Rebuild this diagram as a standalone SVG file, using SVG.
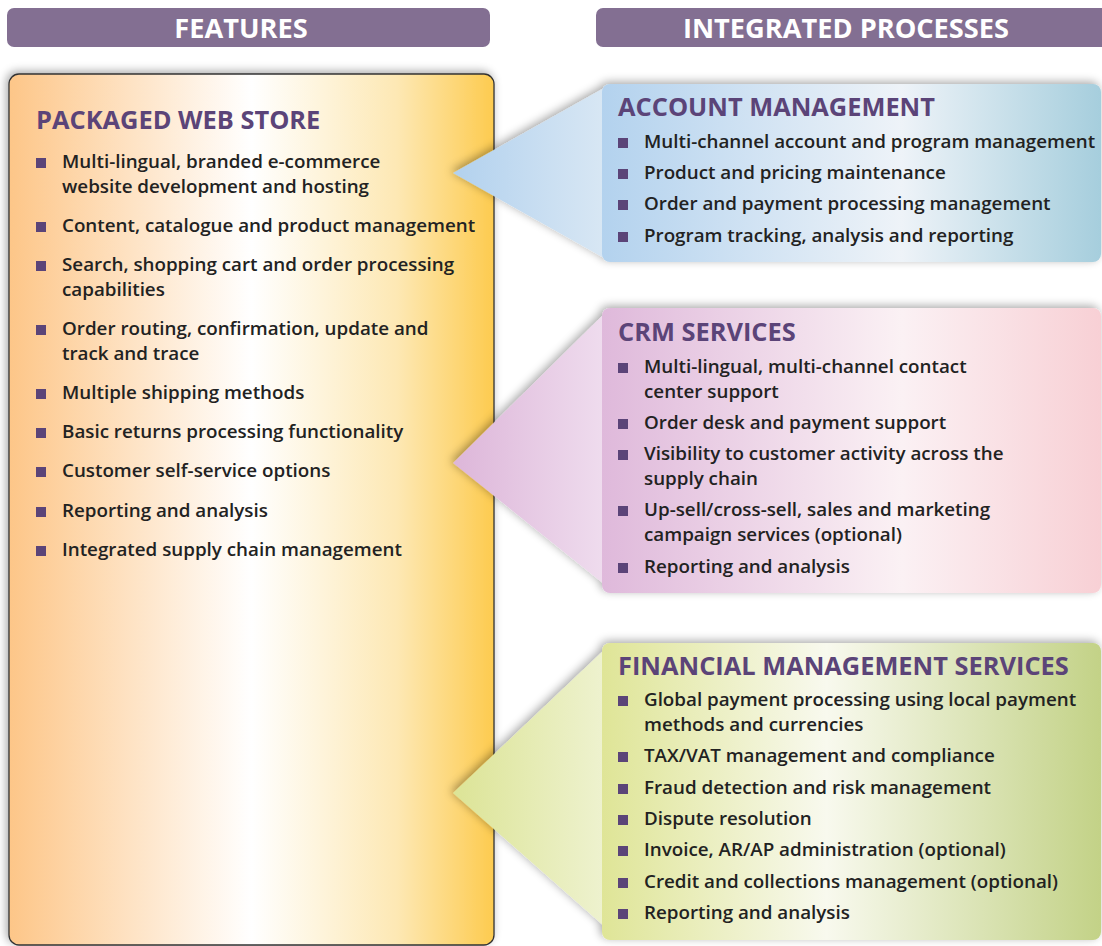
<svg xmlns="http://www.w3.org/2000/svg" width="1102" height="946" viewBox="0 0 1102 946">
<defs>
<linearGradient id="gLeft" x1="0" y1="0" x2="1" y2="0">
<stop offset="0" stop-color="#fdc688"/>
<stop offset="0.5" stop-color="#ffffff"/>
<stop offset="0.8" stop-color="#fde8b4"/>
<stop offset="1" stop-color="#fdcb4f"/>
</linearGradient>
<linearGradient id="gAcc" x1="0" y1="0" x2="1" y2="0">
<stop offset="0" stop-color="#b3d2ee"/>
<stop offset="0.6" stop-color="#eef3f8"/>
<stop offset="1" stop-color="#a6cedd"/>
</linearGradient>
<linearGradient id="gAccT" x1="0" y1="0" x2="1" y2="0">
<stop offset="0" stop-color="#b2d1ee"/>
<stop offset="1" stop-color="#d8e7f4"/>
</linearGradient>
<linearGradient id="gCrm" x1="0" y1="0" x2="1" y2="0">
<stop offset="0" stop-color="#dfb9db"/>
<stop offset="0.6" stop-color="#fbf1f4"/>
<stop offset="1" stop-color="#f8d0d5"/>
</linearGradient>
<linearGradient id="gCrmT" x1="0" y1="0" x2="1" y2="0">
<stop offset="0" stop-color="#ddb6d9"/>
<stop offset="1" stop-color="#efdcee"/>
</linearGradient>
<linearGradient id="gFin" x1="0" y1="0" x2="1" y2="0">
<stop offset="0" stop-color="#dfe597"/>
<stop offset="0.45" stop-color="#f8f9ee"/>
<stop offset="1" stop-color="#c3d287"/>
</linearGradient>
<linearGradient id="gFinT" x1="0" y1="0" x2="1" y2="0">
<stop offset="0" stop-color="#dce496"/>
<stop offset="1" stop-color="#eef2cf"/>
</linearGradient>
<filter id="sh" x="-10%" y="-10%" width="120%" height="120%">
<feGaussianBlur in="SourceAlpha" stdDeviation="5"/>
<feOffset dx="-2" dy="-2" result="b"/>
<feComponentTransfer><feFuncA type="linear" slope="0.35"/></feComponentTransfer>
<feMerge><feMergeNode/><feMergeNode in="SourceGraphic"/></feMerge>
</filter>
</defs>
<style>
.hdr{fill:#836f92}
.htxt{font-family:"Open Sans","Liberation Sans",sans-serif;font-weight:700;font-size:27.2px;fill:#ffffff;text-anchor:middle}
.ttl{font-family:"Open Sans","Liberation Sans",sans-serif;font-weight:700;font-size:25.4px;fill:#5b4478}
.itm{font-family:"Open Sans","Liberation Sans",sans-serif;font-weight:600;font-size:18.8px;fill:#222222}
.bul{fill:#5b4478}
</style>

<g id="header-features">
<rect class="hdr" x="7" y="8" width="483" height="39" rx="7"/>
<text class="htxt" x="241" y="38">FEATURES</text>
</g>
<g id="header-integrated">
<rect class="hdr" x="596" y="8" width="515" height="39" rx="7"/>
<text class="htxt" x="846" y="38">INTEGRATED PROCESSES</text>
</g>

<g id="packaged-web-store">
<rect x="9" y="74" width="485" height="871" rx="10" fill="url(#gLeft)" stroke="#333333" stroke-width="1.3" filter="url(#sh)"/>
<text class="ttl" x="36" y="129">PACKAGED WEB STORE</text>
<g class="bul">
<rect x="36" y="158" width="10" height="10"/>
<rect x="36" y="222" width="10" height="10"/>
<rect x="36" y="261" width="10" height="10"/>
<rect x="36" y="325" width="10" height="10"/>
<rect x="36" y="389" width="10" height="10"/>
<rect x="36" y="428" width="10" height="10"/>
<rect x="36" y="467" width="10" height="10"/>
<rect x="36" y="507" width="10" height="10"/>
<rect x="36" y="546" width="10" height="10"/>
</g>
<text class="itm" x="62" y="168">Multi-lingual, branded e-commerce</text>
<text class="itm" x="62" y="193">website development and hosting</text>
<text class="itm" x="62" y="232">Content, catalogue and product management</text>
<text class="itm" x="62" y="271">Search, shopping cart and order processing</text>
<text class="itm" x="62" y="296">capabilities</text>
<text class="itm" x="62" y="335">Order routing, confirmation, update and</text>
<text class="itm" x="62" y="360">track and trace</text>
<text class="itm" x="62" y="399">Multiple shipping methods</text>
<text class="itm" x="62" y="438">Basic returns processing functionality</text>
<text class="itm" x="62" y="477">Customer self-service options</text>
<text class="itm" x="62" y="517">Reporting and analysis</text>
<text class="itm" x="62" y="556">Integrated supply chain management</text>
</g>

<g id="account-management">
<g filter="url(#sh)">
<polygon points="604,88 453,173 604,258" fill="url(#gAccT)"/>
<rect x="602" y="84" width="499" height="178" rx="8" fill="url(#gAcc)"/>
</g>
<text class="ttl" x="618" y="116">ACCOUNT MANAGEMENT</text>
<g class="bul">
<rect x="618" y="138" width="10" height="10"/>
<rect x="618" y="169" width="10" height="10"/>
<rect x="618" y="200" width="10" height="10"/>
<rect x="618" y="232" width="10" height="10"/>
</g>
<text class="itm" x="644" y="148">Multi-channel account and program management</text>
<text class="itm" x="644" y="179">Product and pricing maintenance</text>
<text class="itm" x="644" y="210">Order and payment processing management</text>
<text class="itm" x="644" y="242">Program tracking, analysis and reporting</text>
</g>

<g id="crm-services">
<g filter="url(#sh)">
<polygon points="604,314 453,463 604,584" fill="url(#gCrmT)"/>
<rect x="602" y="308" width="499" height="285" rx="8" fill="url(#gCrm)"/>
</g>
<text class="ttl" x="618" y="341">CRM SERVICES</text>
<g class="bul">
<rect x="618" y="363" width="10" height="10"/>
<rect x="618" y="419" width="10" height="10"/>
<rect x="618" y="450" width="10" height="10"/>
<rect x="618" y="506" width="10" height="10"/>
<rect x="618" y="563" width="10" height="10"/>
</g>
<text class="itm" x="644" y="373">Multi-lingual, multi-channel contact</text>
<text class="itm" x="644" y="398">center support</text>
<text class="itm" x="644" y="429">Order desk and payment support</text>
<text class="itm" x="644" y="460">Visibility to customer activity across the</text>
<text class="itm" x="644" y="485">supply chain</text>
<text class="itm" x="644" y="516">Up-sell/cross-sell, sales and marketing</text>
<text class="itm" x="644" y="541">campaign services (optional)</text>
<text class="itm" x="644" y="573">Reporting and analysis</text>
</g>

<g id="financial-management-services">
<g filter="url(#sh)">
<polygon points="604,650 453,793 604,926" fill="url(#gFinT)"/>
<rect x="602" y="643" width="499" height="297" rx="8" fill="url(#gFin)"/>
</g>
<text class="ttl" x="618" y="675">FINANCIAL MANAGEMENT SERVICES</text>
<g class="bul">
<rect x="618" y="696" width="10" height="10"/>
<rect x="618" y="752" width="10" height="10"/>
<rect x="618" y="784" width="10" height="10"/>
<rect x="618" y="815" width="10" height="10"/>
<rect x="618" y="846" width="10" height="10"/>
<rect x="618" y="878" width="10" height="10"/>
<rect x="618" y="909" width="10" height="10"/>
</g>
<text class="itm" x="644" y="706">Global payment processing using local payment</text>
<text class="itm" x="644" y="731">methods and currencies</text>
<text class="itm" x="644" y="762">TAX/VAT management and compliance</text>
<text class="itm" x="644" y="794">Fraud detection and risk management</text>
<text class="itm" x="644" y="825">Dispute resolution</text>
<text class="itm" x="644" y="856">Invoice, AR/AP administration (optional)</text>
<text class="itm" x="644" y="888">Credit and collections management (optional)</text>
<text class="itm" x="644" y="919">Reporting and analysis</text>
</g>
</svg>
